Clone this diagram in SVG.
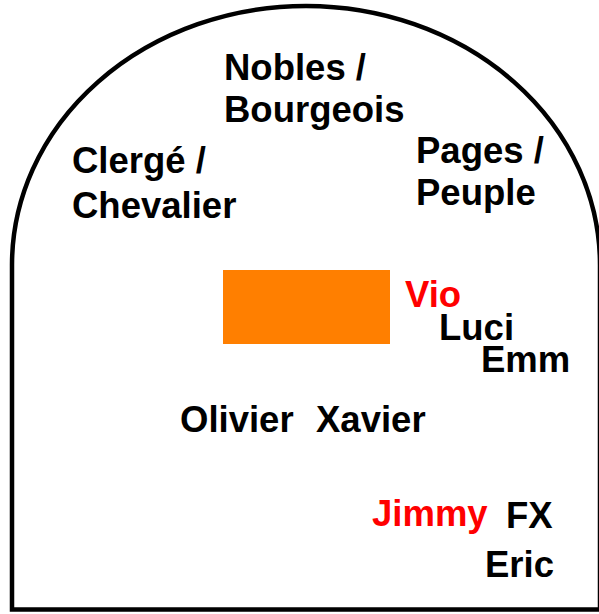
<svg xmlns="http://www.w3.org/2000/svg" width="599" height="614" viewBox="0 0 599 614">
<style>
text{font-family:"Liberation Sans",Arial,Helvetica,sans-serif;font-weight:bold;font-size:36.5px;fill:#000}
.red{fill:#ff0000}
</style>
<rect width="599" height="614" fill="#fff"/>
<g id="frame">
<path d="M12,265 A294,259 0 0 1 600,265 L600,609.5 L12,609.5 Z" fill="none" stroke="#000" stroke-width="4.5"/>
</g>
<g id="block"><rect x="223" y="270" width="167" height="74" fill="#ff7f00"/></g>
<g id="nobles"><text x="224" y="80">Nobles /</text><text x="224" y="122">Bourgeois</text></g>
<g id="clerge"><text x="72" y="173">Clergé /</text><text x="72" y="218">Chevalier</text></g>
<g id="pages"><text x="416" y="163">Pages /</text><text x="416" y="205">Peuple</text></g>
<g id="vio"><text class="red" x="405" y="307">Vio</text></g>
<g id="luci"><text x="439" y="340">Luci</text></g>
<g id="emm"><text x="481" y="372">Emm</text></g>
<g id="olivier"><text x="180" y="432">Olivier</text></g>
<g id="xavier"><text x="316" y="432">Xavier</text></g>
<g id="jimmy"><text class="red" x="372" y="526">Jimmy</text></g>
<g id="fx"><text x="506" y="528">FX</text></g>
<g id="eric"><text x="485" y="577">Eric</text></g>
<g id="connectors"/>
</svg>
